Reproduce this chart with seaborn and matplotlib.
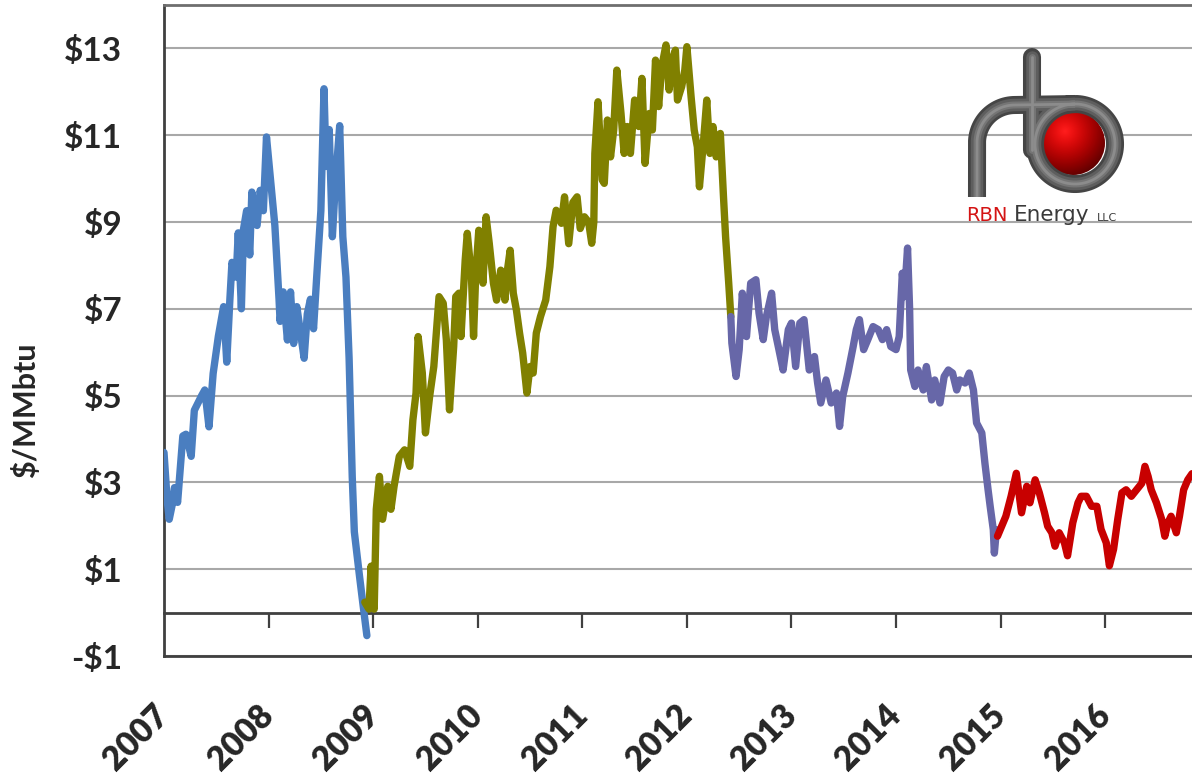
import numpy as np
import pandas as pd
import matplotlib
matplotlib.use("Agg")
import matplotlib.pyplot as plt
import seaborn as sns
from matplotlib.patches import Circle

# ---------------- data ----------------
blue_years = [2007.00, 2007.03, 2007.05, 2007.08, 2007.10, 2007.13, 2007.18, 2007.21, 2007.26, 2007.29,
              2007.36, 2007.39, 2007.43, 2007.47, 2007.52, 2007.57, 2007.60, 2007.63, 2007.65, 2007.69,
              2007.71, 2007.74, 2007.76, 2007.79, 2007.82, 2007.84, 2007.89, 2007.92, 2007.95, 2007.98,
              2008.02, 2008.06, 2008.10, 2008.11, 2008.14, 2008.18, 2008.21, 2008.24, 2008.27, 2008.30,
              2008.34, 2008.37, 2008.40, 2008.43, 2008.46, 2008.50, 2008.53, 2008.55, 2008.58, 2008.61,
              2008.64, 2008.68, 2008.71, 2008.74, 2008.77, 2008.80, 2008.82, 2008.87, 2008.90, 2008.94]
blue_values = [3.69, 2.60, 2.15, 2.50, 2.88, 2.54, 4.07, 4.11, 3.60, 4.66,
               5.00, 5.13, 4.28, 5.51, 6.37, 7.05, 5.77, 7.22, 8.07, 7.73,
               8.75, 7.00, 8.83, 9.26, 8.24, 9.69, 8.92, 9.73, 9.26, 10.96,
               9.94, 8.92, 7.22, 6.71, 7.39, 6.28, 7.39, 6.20, 7.05, 6.54,
               5.86, 6.88, 7.22, 6.54, 7.73, 9.26, 12.07, 10.28, 11.13, 8.66,
               9.94, 11.22, 8.66, 7.73, 5.86, 3.13, 1.86, 0.83, 0.24, -0.53]

olive_years = [2008.92, 2008.96, 2008.98, 2009.01, 2009.03, 2009.06, 2009.09, 2009.14, 2009.17, 2009.20,
               2009.25, 2009.30, 2009.35, 2009.38, 2009.41, 2009.43, 2009.47, 2009.50, 2009.54, 2009.58,
               2009.63, 2009.67, 2009.70, 2009.73, 2009.77, 2009.79, 2009.82, 2009.84, 2009.88, 2009.90,
               2009.94, 2009.96, 2009.98, 2010.01, 2010.05, 2010.08, 2010.11, 2010.15, 2010.18, 2010.22,
               2010.26, 2010.28, 2010.31, 2010.34, 2010.37, 2010.40, 2010.43, 2010.47, 2010.50, 2010.53,
               2010.56, 2010.60, 2010.65, 2010.69, 2010.72, 2010.75, 2010.80, 2010.83, 2010.87, 2010.91,
               2010.95, 2010.98, 2011.02, 2011.06, 2011.09, 2011.11, 2011.12, 2011.15, 2011.19, 2011.21,
               2011.24, 2011.27, 2011.30, 2011.33, 2011.37, 2011.40, 2011.43, 2011.46, 2011.50, 2011.54,
               2011.57, 2011.60, 2011.64, 2011.67, 2011.70, 2011.73, 2011.76, 2011.80, 2011.83, 2011.86,
               2011.89, 2011.91, 2011.95, 2011.98, 2012.00, 2012.04, 2012.07, 2012.10, 2012.12, 2012.16,
               2012.19, 2012.22, 2012.25, 2012.28, 2012.32, 2012.35, 2012.37, 2012.40, 2012.42]
olive_values = [0.24, 0.08, 1.07, 0.08, 2.38, 3.14, 2.15, 2.91, 2.38, 2.91,
                3.60, 3.75, 3.37, 4.44, 5.06, 6.36, 5.52, 4.14, 4.98, 5.67,
                7.28, 7.13, 6.28, 4.67, 6.13, 7.28, 7.36, 6.36, 8.12, 8.74,
                7.74, 6.36, 7.74, 8.81, 7.59, 9.12, 8.51, 7.59, 7.20, 7.89,
                7.20, 7.82, 8.35, 7.36, 6.97, 6.44, 5.98, 5.06, 5.67, 5.52,
                6.44, 6.82, 7.20, 7.97, 8.89, 9.27, 8.97, 9.58, 8.50, 9.45,
                9.58, 8.85, 9.12, 9.00, 8.51, 9.00, 10.58, 11.77, 9.97, 9.89,
                11.35, 10.50, 11.12, 12.50, 11.50, 10.58, 11.20, 10.58, 11.81, 11.20,
                12.31, 10.35, 11.50, 11.12, 12.73, 11.66, 12.58, 13.08, 12.04, 12.73,
                12.96, 11.81, 12.12, 12.50, 13.04, 11.89, 11.12, 10.73, 9.81, 10.89,
                11.81, 10.58, 11.20, 10.50, 11.04, 9.58, 8.66, 7.59, 6.82]

purple_years = [2012.42, 2012.43, 2012.47, 2012.50, 2012.53, 2012.57, 2012.61, 2012.66, 2012.69, 2012.73,
                2012.76, 2012.81, 2012.84, 2012.88, 2012.92, 2012.97, 2013.00, 2013.04, 2013.08, 2013.12,
                2013.17, 2013.22, 2013.25, 2013.28, 2013.33, 2013.38, 2013.43, 2013.46, 2013.49, 2013.54,
                2013.59, 2013.62, 2013.65, 2013.69, 2013.73, 2013.78, 2013.83, 2013.87, 2013.91, 2013.95,
                2014.00, 2014.03, 2014.06, 2014.08, 2014.11, 2014.13, 2014.14, 2014.18, 2014.21, 2014.26,
                2014.29, 2014.34, 2014.37, 2014.42, 2014.46, 2014.50, 2014.54, 2014.58, 2014.61, 2014.66,
                2014.70, 2014.74, 2014.77, 2014.82, 2014.85, 2014.88, 2014.90, 2014.93, 2014.94, 2014.96]
purple_values = [6.82, 6.21, 5.44, 6.06, 7.36, 6.36, 7.59, 7.67, 6.90, 6.29,
                 6.82, 7.36, 6.52, 6.06, 5.59, 6.52, 6.67, 5.67, 6.67, 6.75,
                 5.59, 5.90, 5.29, 4.83, 5.36, 4.83, 5.06, 4.29, 4.98, 5.52,
                 6.13, 6.52, 6.75, 6.06, 6.29, 6.59, 6.52, 6.29, 6.52, 6.13,
                 6.06, 6.36, 7.82, 7.28, 8.40, 6.98, 5.59, 5.21, 5.59, 5.13,
                 5.67, 4.90, 5.36, 4.83, 5.44, 5.59, 5.52, 5.13, 5.36, 5.29,
                 5.52, 5.13, 4.37, 4.14, 3.44, 2.83, 2.45, 1.91, 1.37, 1.91]

red_years = [2014.97, 2015.01, 2015.05, 2015.10, 2015.15, 2015.20, 2015.25, 2015.28, 2015.33, 2015.37,
             2015.42, 2015.45, 2015.49, 2015.52, 2015.56, 2015.61, 2015.64, 2015.69, 2015.74, 2015.77,
             2015.82, 2015.87, 2015.92, 2015.96, 2016.01, 2016.04, 2016.08, 2016.12, 2016.16, 2016.20,
             2016.25, 2016.30, 2016.35, 2016.38, 2016.41, 2016.44, 2016.49, 2016.54, 2016.57, 2016.60,
             2016.63, 2016.68, 2016.71, 2016.75, 2016.79, 2016.83]
red_values = [1.76, 1.99, 2.22, 2.68, 3.21, 2.30, 2.91, 2.53, 3.06, 2.76,
              2.30, 1.99, 1.84, 1.53, 1.84, 1.61, 1.31, 2.07, 2.53, 2.68,
              2.68, 2.45, 2.45, 1.92, 1.61, 1.08, 1.46, 2.15, 2.76, 2.83,
              2.68, 2.83, 2.98, 3.37, 3.14, 2.83, 2.53, 2.15, 1.76, 2.07,
              2.22, 1.84, 2.22, 2.83, 3.06, 3.20]

year_ticks = [2007, 2008, 2009, 2010, 2011, 2012, 2013, 2014, 2015, 2016]
year_labels = [str(y) for y in year_ticks]
y_ticks = [-1, 1, 3, 5, 7, 9, 11, 13]
y_labels = ['-\\$1', '\\$1', '\\$3', '\\$5', '\\$7', '\\$9', '\\$11', '\\$13']

segments = [
    ("blue", blue_years, blue_values, "#4a7ec0"),
    ("olive", olive_years, olive_values, "#808000"),
    ("purple", purple_years, purple_values, "#6767a8"),
    ("red", red_years, red_values, "#c80000"),
]

# ---------------- figure ----------------
sns.set_style("white")
plt.rcParams['font.family'] = ['Lato', 'DejaVu Sans']

W, H = 1192, 778
fig = plt.figure(figsize=(W / 100, H / 100), dpi=100)
ax = fig.add_axes([164 / W, 1 - 656 / H, 1 - 164 / W, (656 - 5) / H])

for name, yrs, vals, col in segments:
    df = pd.DataFrame({"year": yrs, "value": vals})
    sns.lineplot(data=df, x="year", y="value", color=col, lw=5.3, ax=ax,
                 estimator=None, sort=False, solid_capstyle="round",
                 solid_joinstyle="round", zorder=3)

ax.set_xlim(2007, 2016.83)
ax.set_ylim(-1, 14)
ax.set_xlabel("")
ax.set_ylabel("")

ax.set_yticks(y_ticks)
ax.set_yticklabels(y_labels, fontsize=24, fontweight="bold")
ax.tick_params(axis="y", direction="out", length=9, width=1.6, color="#404040", pad=21)
ax.grid(axis="y", color="#a8a8a8", lw=1.5, zorder=0)
ax.grid(axis="x", visible=False)

ax.set_xticks(year_ticks)
ax.set_xticklabels(year_labels, rotation=45, ha="right", va="center",
                   rotation_mode="anchor", fontsize=24, fontweight="heavy")
ax.tick_params(axis="x", length=0, pad=39)

for s in ["left", "bottom"]:
    ax.spines[s].set_color("#404040")
    ax.spines[s].set_linewidth(2)
ax.spines["top"].set_color("#6e6e6e")
ax.spines["top"].set_linewidth(2)
ax.spines["right"].set_visible(False)

# zero line with year tick marks
sec = ax.secondary_xaxis(1 / 15)
sec.set_xticks(year_ticks[1:])
sec.set_xticklabels([])
sec.tick_params(axis="x", direction="out", length=11, width=1.6, color="#404040")
for s in sec.spines.values():
    s.set_color("#404040")
    s.set_linewidth(2)

fig.text(26 / W, 1 - 410 / H, "\\$/MMbtu", rotation=90, ha="center", va="center",
         fontsize=22, fontweight="bold")

# ---------------- logo ----------------
lx0, ly0, lw_, lh_ = 940, 40, 200, 200
lax = fig.add_axes([lx0 / W, 1 - (ly0 + lh_) / H, lw_ / W, lh_ / H])
lax.set_xlim(lx0, lx0 + lw_)
lax.set_ylim(ly0 + lh_, ly0)
lax.axis("off")
lax.patch.set_alpha(0)

# red sphere
cx, cy, r = 1073, 143, 32
gx, gy = np.meshgrid(np.linspace(cx - r, cx + r, 200), np.linspace(cy - r, cy + r, 200))
d = np.sqrt((gx - (cx - 8)) ** 2 + (gy - (cy - 12)) ** 2) / (1.5 * r)
d = np.clip(d, 0, 1)
img = np.zeros(gx.shape + (3,))
img[..., 0] = 1.0 - 0.65 * d ** 1.2
img[..., 1] = 0.12 * (1 - d) ** 3
img[..., 2] = 0.12 * (1 - d) ** 3
im = lax.imshow(img, extent=(cx - r, cx + r, cy + r, cy - r), zorder=1, interpolation="bilinear")
clip = Circle((cx, cy), r, transform=lax.transData)
im.set_clip_path(clip)

# tube
t = np.linspace(0, np.pi / 2, 30)
rr = 38
arc_x = 1015 - rr * np.cos(t)
arc_y = 143 - rr * np.sin(t)
bt = np.linspace(0, 2 * np.pi, 120)
bowl_x = 1075 + 40 * np.sin(bt)
bowl_y = 144 - 40 * np.cos(bt)
r_x = np.concatenate([[977], arc_x, bowl_x])
r_y = np.concatenate([[197], arc_y, bowl_y])
for lwv, c in [(13, "#454545"), (9, "#5e5e5e"), (5, "#757575"), (2, "#8c8c8c")]:
    lax.plot(r_x, r_y, color=c, lw=lwv, solid_capstyle="butt", solid_joinstyle="round", zorder=2)
    lax.plot([1032, 1032], [57, 150], color=c, lw=lwv, solid_capstyle="round", zorder=2)

fam = ["DejaVu Sans"]
lax.text(966, 221, "RBN", color="#d41414", fontsize=14, family=fam, ha="left", va="baseline")
lax.text(1014, 221, "Energy", color="#3a3a3a", fontsize=15.5, family=fam, ha="left", va="baseline")
lax.text(1097, 221, "LLC", color="#3a3a3a", fontsize=8, family=fam, ha="left", va="baseline")

fig.savefig("out.png", dpi=100, facecolor="white")
